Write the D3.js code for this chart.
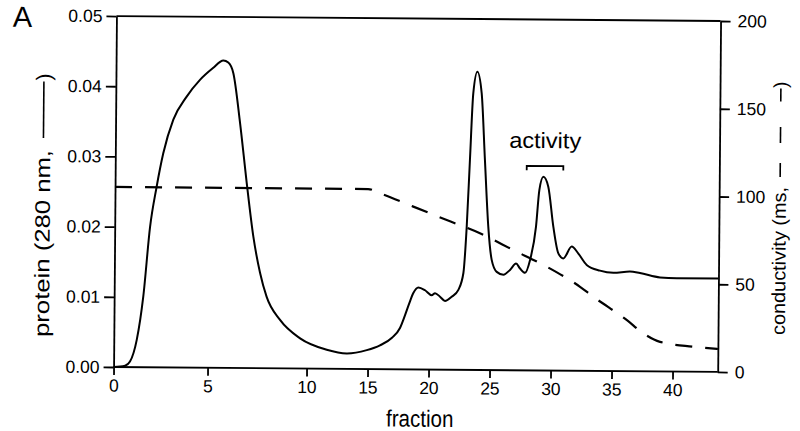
<!DOCTYPE html>
<html>
<head>
<meta charset="utf-8">
<script src="https://cdn.jsdelivr.net/npm/d3@7"></script>
<style>
  html, body { margin: 0; padding: 0; background: #fff; }
  svg { display: block; }
  text { font-family: "Liberation Sans", Arial, Helvetica, sans-serif; fill: #000; }
</style>
</head>
<body>
<svg id="chart" width="800" height="431"></svg>
<script>
// ---- data ----
const proteinFraction = [0, 0.61, 0.87, 1.22, 1.55, 1.88, 2.21, 2.55, 3.07, 3.77, 4.47, 5.15, 5.67, 5.92, 6.18, 6.54, 6.90, 7.26, 7.61, 7.95, 8.64, 9.66, 11.64, 13.28, 14.92, 16.00, 16.98, 17.63, 18.03, 18.35, 18.70, 19.11, 19.66, 20.20, 20.48, 20.89, 21.30, 21.84, 22.39, 22.79, 23.03, 23.25, 23.48, 23.80, 24.17, 24.48, 24.80, 25.10, 25.52, 26.07, 26.61, 27.10, 27.43, 27.84, 28.24, 28.71, 28.96, 29.28, 29.69, 30.13, 30.56, 30.97, 31.65, 32.20, 32.89, 33.98, 35.08, 36.44, 37.26, 38.91, 40.28, 43.7];
const proteinA280 = [0, 0.0002, 0.0008, 0.0039, 0.0101, 0.0200, 0.0257, 0.0305, 0.0353, 0.0386, 0.0410, 0.0427, 0.0438, 0.0435, 0.0420, 0.0349, 0.0264, 0.0187, 0.0136, 0.0102, 0.0069, 0.0043, 0.0027, 0.0022, 0.0027, 0.0034, 0.0045, 0.0059, 0.0077, 0.0093, 0.0109, 0.0117, 0.0113, 0.0106, 0.0109, 0.0104, 0.0098, 0.0104, 0.0114, 0.0138, 0.0204, 0.0299, 0.0394, 0.0425, 0.0394, 0.0299, 0.0204, 0.0157, 0.0140, 0.0136, 0.0143, 0.0152, 0.0145, 0.0139, 0.0157, 0.0205, 0.0257, 0.0276, 0.0262, 0.0205, 0.0167, 0.0160, 0.0177, 0.0167, 0.0151, 0.0143, 0.0140, 0.0142, 0.0140, 0.0134, 0.0133, 0.0133];

const condFraction = [0, 14.92, 15.90, 18.64, 21.39, 24.12, 26.87, 29.61, 32.36, 33.45, 36.20, 37.57, 38.95, 41.68, 43.7];
const conductivity = [102.6, 102.6, 100.2, 92.8, 85.3, 77.9, 68.5, 59.2, 47.9, 42.3, 29.2, 21.7, 16.9, 14.3, 13.1];

const xTicks = [0, 5, 10, 15, 20, 25, 30, 35, 40];
const yLeftTicks = [0, 0.01, 0.02, 0.03, 0.04, 0.05];
const yRightTicks = [0, 50, 100, 150, 200];
const activityRange = [27.91, 30.91];

// ---- scales (the first 10 fractions are drawn wider, as in the original) ----
const xMax = 43.7;
const x = d3.scaleLinear().domain([0, 5, 10, 40]).range([114, 208, 307, 673]);
const yL = d3.scaleLinear().domain([0, 0.05]).range([369, 18]);
const yR = d3.scaleLinear().domain([0, 200]).range([369, 18]);

const svg = d3.select("#chart");
// the scanned figure is very slightly rotated
const root = svg.append("g").attr("transform", "translate(1,0.5) rotate(0.47,416,194)");
const SW = 1.8;

// top frame line
root.append("line")
  .attr("x1", x(0)).attr("x2", x(xMax))
  .attr("y1", yL(0.05)).attr("y2", yL(0.05))
  .attr("stroke", "#000").attr("stroke-width", SW);

// bottom axis
const gx = root.append("g").attr("transform", `translate(0,${yL(0)})`)
  .call(d3.axisBottom(x).tickValues(xTicks).tickFormat(d3.format("d")).tickSize(8).tickSizeOuter(0).tickPadding(4));
gx.select(".domain").attr("d", `M${x(0)},0H${x(xMax)}`);

// left axis
root.append("g").attr("transform", `translate(${x(0)},0)`)
  .call(d3.axisLeft(yL).tickValues(yLeftTicks).tickFormat(d3.format(".2f")).tickSize(10).tickSizeOuter(0).tickPadding(4));

// right axis
root.append("g").attr("transform", `translate(${x(xMax)},0)`)
  .call(d3.axisRight(yR).tickValues(yRightTicks).tickFormat(d3.format("d")).tickSize(10).tickSizeOuter(0).tickPadding(7));

root.selectAll(".tick text")
  .attr("font-family", null).attr("fill", "#000")
  .style("font-family", "'Liberation Sans', Arial, sans-serif").style("font-size", "17.5px");
root.selectAll(".domain, .tick line").attr("stroke", "#000").attr("stroke-width", SW);

// protein curve
const lineP = d3.line()
  .x((d, i) => x(proteinFraction[i]))
  .y(d => yL(d))
  .curve(d3.curveMonotoneX);
root.append("path")
  .datum(proteinA280)
  .attr("d", lineP)
  .attr("fill", "none").attr("stroke", "#000").attr("stroke-width", 2);

// conductivity curve (dashed)
const lineC = d3.line()
  .x((d, i) => x(condFraction[i]))
  .y(d => yR(d))
  .curve(d3.curveMonotoneX);
root.append("path")
  .datum(conductivity)
  .attr("d", lineC)
  .attr("fill", "none").attr("stroke", "#000").attr("stroke-width", 2.2)
  .attr("stroke-dasharray", "17,13");

// activity bracket
const by = 164.4;
root.append("path")
  .attr("d", `M${x(activityRange[0])},${by + 4.5}V${by}H${x(activityRange[1])}V${by + 4.5}`)
  .attr("fill", "none").attr("stroke", "#000").attr("stroke-width", SW);
root.append("text")
  .attr("x", (x(activityRange[0]) + x(activityRange[1])) / 2)
  .attr("y", 146.5)
  .attr("text-anchor", "middle")
  .attr("textLength", 72).attr("lengthAdjust", "spacingAndGlyphs")
  .style("font-size", "22px")
  .text("activity");

// panel label
root.append("text").attr("x", 10.5).attr("y", 29.5)
  .style("font-size", "29px").text("A");

// x axis title
root.append("text")
  .attr("transform", "translate(420.6,426.2) scale(1,1.15)")
  .attr("text-anchor", "middle").style("font-size", "20.5px")
  .text("fraction");

// left axis title: "protein (280 nm, ——)"
const lt = root.append("g").attr("transform", "translate(49,0) rotate(-90)");
lt.append("text").attr("x", -339.5).attr("y", 0)
  .attr("textLength", 187).attr("lengthAdjust", "spacingAndGlyphs")
  .style("font-size", "21px").text("protein (280 nm,");
lt.append("line").attr("x1", -140.5).attr("x2", -84).attr("y1", -7).attr("y2", -7)
  .attr("stroke", "#000").attr("stroke-width", 1.6);
lt.append("text").attr("x", -83).attr("y", 0)
  .style("font-size", "21px").text(")");

// right axis title: "conductivity (ms, – – –)"
const rt = root.append("g").attr("transform", "translate(785,0) rotate(-90)");
rt.append("text").attr("x", -331.5).attr("y", 0)
  .attr("textLength", 148).attr("lengthAdjust", "spacingAndGlyphs")
  .style("font-size", "19px").text("conductivity (ms,");
[[-173.5, -159.5], [-139.5, -123.5], [-98, -85]].forEach(([a, b]) => {
  rt.append("line").attr("x1", a).attr("x2", b).attr("y1", -6).attr("y2", -6)
    .attr("stroke", "#000").attr("stroke-width", 1.6);
});
rt.append("text").attr("x", -84.5).attr("y", 0)
  .style("font-size", "19px").text(")");
</script>
</body>
</html>
